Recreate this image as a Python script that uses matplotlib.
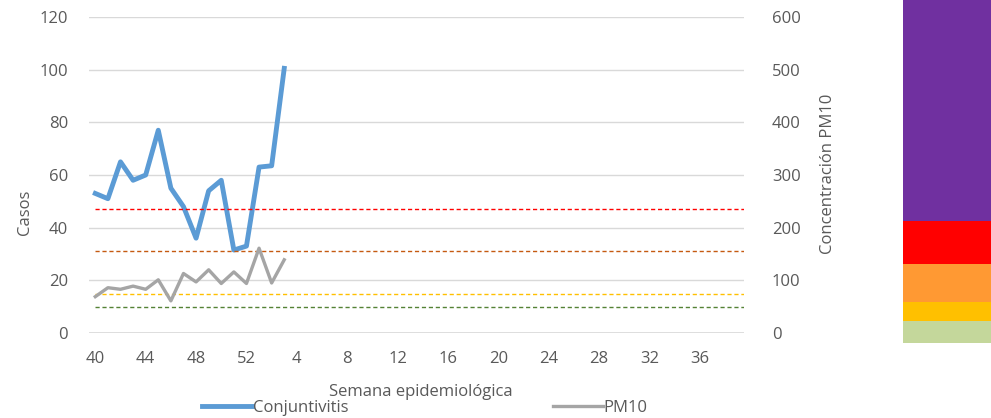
import matplotlib
matplotlib.use("Agg")
import matplotlib.pyplot as plt
from matplotlib.lines import Line2D

plt.rcParams['font.family'] = ['Open Sans', 'DejaVu Sans']

# ---- data ----
weeks = list(range(40, 53)) + list(range(1, 40))
conjuntivitis = [53, 51, 65, 58, 60, 77, 55, 48, 36, 54, 58, 31.5, 33, 63, 63.5, 100.5]
pm10 = [69, 86, 83, 89, 83, 101, 61, 113, 97, 120, 94, 116, 94, 161, 95, 139]
thresholds = [235, 155, 75, 50]
threshold_colors = ['#FF0000', '#C55A11', '#FFC000', '#548235']
band_heights = [22, 19, 38, 43, 221]  # green, yellow, orange, red, purple (pixel-like units)
band_colors = ['#C4D79B', '#FFC000', '#FF9933', '#FF0000', '#7030A0']

TXT = '#595959'
W, H = 991, 418
fig = plt.figure(figsize=(W / 100, H / 100), dpi=100)

ax = fig.add_axes([89 / W, 1 - 333 / H, (744 - 89) / W, (333 - 17) / H])
ax2 = ax.twinx()

x_all = list(range(len(weeks)))
ax.plot(x_all[:len(conjuntivitis)], conjuntivitis, color='#5B9BD5', lw=3.5,
        solid_joinstyle='round', zorder=5)
ax2.plot(x_all[:len(pm10)], pm10, color='#A5A5A5', lw=2.4, solid_joinstyle='round', zorder=5)
for t, c in zip(thresholds, threshold_colors):
    ax2.hlines(t, x_all[0], len(weeks) - 0.5, color=c, lw=1.0, linestyles=[(0, (3, 2))], zorder=4)

ax.set_xlim(-0.5, len(weeks) - 0.5)
ax.set_ylim(0, 120)
ax2.set_ylim(0, 600)
ax.set_yticks(range(0, 121, 20))
ax2.set_yticks(range(0, 601, 100))
ticks = list(range(0, 49, 4))
ax.set_xticks(ticks)
ax.set_xticklabels([str(weeks[i]) for i in ticks])

ax.grid(axis='y', color='#D9D9D9', lw=1)
ax.set_axisbelow(True)
for a in (ax, ax2):
    for s in a.spines.values():
        s.set_visible(False)
ax.axhline(0, color='#D9D9D9', lw=1.2, zorder=1)

ax.tick_params(axis='both', length=0, colors=TXT, labelsize=12)
ax.tick_params(axis='y', pad=15)
ax.tick_params(axis='x', pad=13)
ax2.tick_params(axis='y', length=0, colors=TXT, labelsize=12, pad=20)

ax.set_ylabel('Casos', color=TXT, fontsize=12)
ax.yaxis.set_label_coords(-0.0855, 0.383)
ax2.set_ylabel('Concentración PM10', color=TXT, fontsize=12)
ax2.yaxis.set_label_coords(1.116, 0.503)
ax.set_xlabel('Semana epidemiológica', color=TXT, fontsize=12)
ax.xaxis.set_label_coords(0.507, -0.16)

handles = [Line2D([], [], color='#5B9BD5', lw=3.5), Line2D([], [], color='#A5A5A5', lw=2.4)]
leg = fig.legend(handles, ['Conjuntivitis', 'PM10'], loc='center left',
                 bbox_to_anchor=(202 / W, 1 - 408 / H), ncol=2, frameon=False,
                 fontsize=12, handlelength=3.0, handletextpad=0.05, columnspacing=12.25,
                 borderpad=0, borderaxespad=0)
for t in leg.get_texts():
    t.set_color(TXT)

# colour band image on the right
axb = fig.add_axes([903 / W, 1 - 343 / H, (991 - 903) / W, 343 / H])
bottom = 0
for h, c in zip(band_heights, band_colors):
    axb.bar(0, h, bottom=bottom, width=1, color=c, align='edge')
    bottom += h
axb.set_xlim(0, 1)
axb.set_ylim(0, sum(band_heights))
axb.axis('off')

fig.savefig('out.png', dpi=100)
